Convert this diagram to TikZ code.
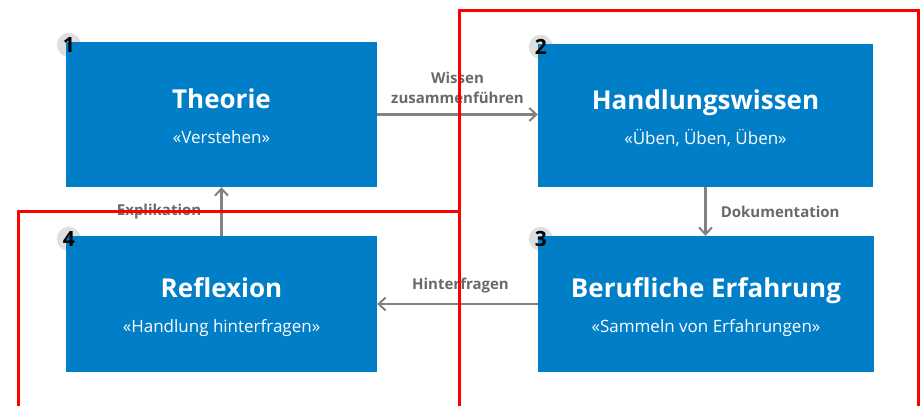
\documentclass[tikz,border=0pt]{standalone}
\usepackage{fontspec}
\setmainfont{Open Sans}
\usepackage{tikz}
\usetikzlibrary{arrows.meta, positioning, backgrounds}
\definecolor{boxblue}{RGB}{0,126,199}
\definecolor{arrowgray}{RGB}{130,130,130}
\definecolor{labelgray}{RGB}{105,105,105}
\tikzstyle{stage} = [rectangle, fill=boxblue, text=white, align=center, inner sep=0pt]
\tikzstyle{badge} = [circle, fill=gray!25, minimum size=24pt, inner sep=0pt]
\tikzstyle{badgenum} = [font=\fontsize{21}{21}\selectfont\bfseries, text=black, inner sep=0pt]
\tikzstyle{arrow} = [line width=2.5pt, draw=arrowgray, -{Straight Barb[length=7pt, width=13pt, line width=2pt]}]
\tikzstyle{flowlabel} = [font=\fontsize{15}{20}\selectfont\bfseries, text=labelgray, align=center, inner sep=0pt]
\tikzstyle{redframe} = [line width=3pt, draw=red]
\newcommand{\stagetitle}[1]{{\fontsize{26}{30}\selectfont\bfseries\rule[-8pt]{0pt}{34pt}#1}}
\newcommand{\stagesub}[1]{{\fontsize{17}{20}\selectfont\rule[-3pt]{0pt}{29pt}#1}}

\begin{document}
\begin{tikzpicture}[x=1pt, y=-1pt]
\useasboundingbox (0,0) rectangle (922,405);
\node (theorie) [stage, minimum width=311pt, minimum height=145pt] at (221.5,114.5) {\stagetitle{Theorie}\\\stagesub{«Verstehen»}};
\node (handlung) [stage, minimum width=335pt, minimum height=143pt] at (705.5,115.5) {\stagetitle{Handlungswissen}\\\stagesub{«Üben, Üben, Üben»}};
\node (erfahrung) [stage, minimum width=336pt, minimum height=136pt] at (706,304) {\stagetitle{Berufliche Erfahrung}\\\stagesub{«Sammeln von Erfahrungen»}};
\node (reflexion) [stage, minimum width=311pt, minimum height=136pt] at (221.5,304) {\stagetitle{Reflexion}\\\stagesub{«Handlung hinterfragen»}};
\begin{scope}[on background layer]
\node (b1) [badge] at ([shift={(3pt,-3pt)}]theorie.north west) {};
\node (b2) [badge] at ([shift={(3pt,-3pt)}]handlung.north west) {};
\node (b3) [badge] at ([shift={(3pt,-3pt)}]erfahrung.north west) {};
\node (b4) [badge] at ([shift={(3pt,-3pt)}]reflexion.north west) {};
\end{scope}
\node (n1) [badgenum] at (b1.center) {1};
\node (n2) [badgenum] at (b2.center) {2};
\node (n3) [badgenum] at (b3.center) {3};
\node (n4) [badgenum] at (b4.center) {4};
\draw [arrow] (theorie.east) -- (theorie.east -| handlung.west) node [flowlabel, midway, above=10pt] {Wissen\\zusammenführen};
\draw [arrow] (handlung.south) -- (handlung.south |- erfahrung.north) node [flowlabel, midway, right=14pt] {Dokumentation};
\draw [arrow] (erfahrung.west) -- (erfahrung.west -| reflexion.east) node [flowlabel, midway, above=10pt, xshift=3pt] {Hinterfragen};
\draw [arrow] (reflexion.north) -- (reflexion.north |- theorie.south) node [flowlabel, midway, left=19pt] {Explikation};
\draw [redframe] (18,406) |- (459,211);
\draw [redframe] (459,406) |- (918,10) -- (918,406);
\end{tikzpicture}
\end{document}
